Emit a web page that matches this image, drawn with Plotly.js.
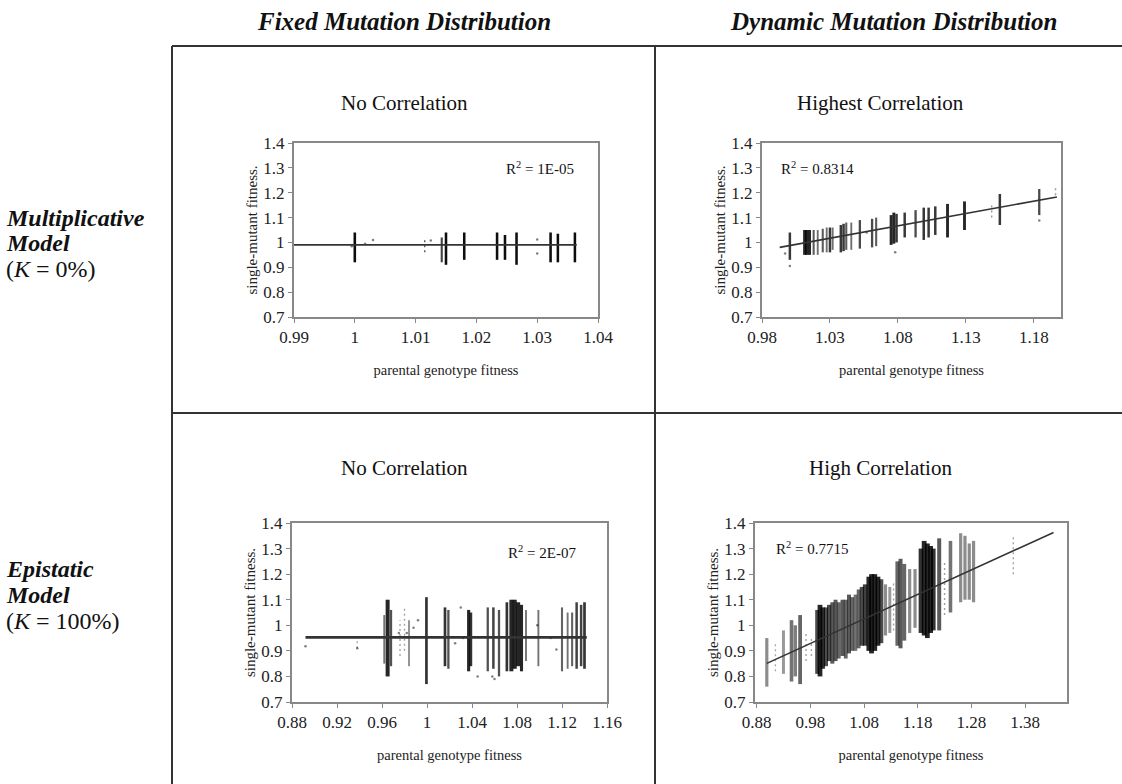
<!DOCTYPE html>
<html>
<head>
<meta charset="utf-8">
<script src="https://cdn.plot.ly/plotly-3.0.1.min.js"></script>
<style>
html,body{margin:0;padding:0;background:#fff;}
#chart{width:1122px;height:784px;}
</style>
</head>
<body>
<div id="chart"></div>
<script>
// ---------------- DATA ----------------
const colHeaders = ["Fixed Mutation Distribution", "Dynamic Mutation Distribution"];
const panelTitles = ["No Correlation", "Highest Correlation", "No Correlation", "High Correlation"];
const r2Labels = ["1E-05", "0.8314", "2E-07", "0.7715"];
const xAxisTitle = "parental genotype fitness";
const yAxisTitle = "single-mutant fitness.";

const yTickVals = [0.7, 0.8, 0.9, 1.0, 1.1, 1.2, 1.3, 1.4];
const yTickText = ["0.7", "0.8", "0.9", "1", "1.1", "1.2", "1.3", "1.4"];
const aTickVals = [0.99, 1.00, 1.01, 1.02, 1.03, 1.04];
const aTickText = ["0.99", "1", "1.01", "1.02", "1.03", "1.04"];
const bTickVals = [0.98, 1.03, 1.08, 1.13, 1.18];
const bTickText = ["0.98", "1.03", "1.08", "1.13", "1.18"];
const cTickVals = [0.88, 0.92, 0.96, 1.00, 1.04, 1.08, 1.12, 1.16];
const cTickText = ["0.88", "0.92", "0.96", "1", "1.04", "1.08", "1.12", "1.16"];
const dTickVals = [0.88, 0.98, 1.08, 1.18, 1.28, 1.38];
const dTickText = ["0.88", "0.98", "1.08", "1.18", "1.28", "1.38"];

// Panel A: fixed distribution, multiplicative model (strips of points per parental fitness)
const aX  = [1.000, 1.0115, 1.0143, 1.0150, 1.018, 1.0234, 1.0247, 1.0266, 1.0322, 1.0334, 1.0362];
const aLo = [0.92, 0.96, 0.92, 0.91, 0.93, 0.93, 0.93, 0.91, 0.92, 0.92, 0.92];
const aHi = [1.04, 1.01, 1.02, 1.04, 1.04, 1.04, 1.03, 1.04, 1.04, 1.035, 1.04];
const aN  = [40, 6, 12, 30, 30, 30, 30, 30, 30, 30, 30];
const aPx = [0.9995, 1.0017, 1.003, 1.030, 1.030, 1.0125];
const aPy = [0.985, 0.995, 1.010, 1.012, 0.955, 1.008];
const aFitX = [0.990, 1.0365];
const aFitY = [0.990, 0.990];

// Panel B: dynamic distribution, multiplicative model
const bX  = [1.0005, 1.0115, 1.013, 1.015, 1.018, 1.021, 1.0247, 1.0276, 1.030, 1.032, 1.038, 1.040, 1.042, 1.0457, 1.052, 1.061, 1.064, 1.075, 1.077, 1.079, 1.085, 1.093, 1.099, 1.1026, 1.1075, 1.1165, 1.129, 1.149, 1.155, 1.184, 1.196];
const bLo = [0.93, 0.95, 0.95, 0.95, 0.95, 0.95, 0.96, 0.96, 0.96, 0.97, 0.96, 0.965, 0.97, 0.97, 0.975, 0.98, 0.985, 0.99, 0.995, 1.00, 1.02, 1.02, 1.01, 1.02, 1.03, 1.02, 1.05, 1.10, 1.07, 1.11, 1.19];
const bHi = [1.04, 1.05, 1.05, 1.05, 1.05, 1.05, 1.055, 1.06, 1.06, 1.06, 1.07, 1.075, 1.08, 1.08, 1.09, 1.095, 1.10, 1.11, 1.12, 1.115, 1.12, 1.13, 1.14, 1.14, 1.145, 1.155, 1.165, 1.16, 1.195, 1.215, 1.23];
const bN  = [30, 60, 60, 40, 20, 15, 20, 15, 30, 15, 30, 30, 20, 15, 25, 25, 20, 40, 40, 30, 30, 25, 30, 30, 30, 40, 40, 5, 30, 25, 4];
const bPx = [0.997, 1.0005, 1.078, 1.184, 1.057];
const bPy = [0.955, 0.905, 0.960, 1.088, 1.040];
const bFitX = [0.993, 1.197];
const bFitY = [0.980, 1.183];

// Panel C: fixed distribution, epistatic model
const cX  = [0.938, 0.962, 0.965, 0.968, 0.976, 0.980, 0.984, 0.9995, 1.016, 1.019, 1.037, 1.039, 1.054, 1.059, 1.064, 1.071, 1.075, 1.078, 1.081, 1.084, 1.088, 1.099, 1.120, 1.125, 1.129, 1.133, 1.137, 1.140];
const cLo = [0.91, 0.85, 0.80, 0.84, 0.88, 0.90, 0.84, 0.77, 0.84, 0.83, 0.82, 0.84, 0.82, 0.83, 0.80, 0.82, 0.82, 0.83, 0.84, 0.82, 0.86, 0.84, 0.82, 0.83, 0.84, 0.83, 0.84, 0.83];
const cHi = [0.96, 1.04, 1.10, 1.06, 1.02, 1.07, 1.02, 1.11, 1.07, 1.06, 1.06, 1.05, 1.07, 1.07, 1.06, 1.09, 1.10, 1.10, 1.09, 1.08, 1.06, 1.06, 1.07, 1.05, 1.05, 1.09, 1.08, 1.09];
const cN  = [3, 20, 80, 30, 5, 5, 15, 40, 40, 30, 50, 40, 30, 35, 30, 40, 80, 100, 80, 50, 20, 20, 25, 20, 25, 35, 35, 40];
const cPx = [0.892, 0.938, 0.975, 0.982, 0.988, 0.992, 1.025, 1.030, 1.032, 1.045, 1.115, 1.110, 1.060, 1.058, 1.098];
const cPy = [0.918, 0.910, 0.970, 0.970, 0.990, 1.020, 0.930, 1.070, 0.950, 0.800, 0.905, 0.950, 0.790, 0.800, 1.000];
const cFitX = [0.892, 1.142];
const cFitY = [0.953, 0.953];

// Panel D: dynamic distribution, epistatic model
const dX  = [0.899, 0.915, 0.930, 0.945, 0.952, 0.961, 0.972, 0.982, 0.993, 0.998, 1.003, 1.009, 1.015, 1.021, 1.027, 1.033, 1.040, 1.046, 1.052, 1.058, 1.064, 1.070, 1.076, 1.082, 1.089, 1.094, 1.100, 1.106, 1.112, 1.120, 1.128, 1.135, 1.142, 1.148, 1.155, 1.165, 1.175, 1.186, 1.192, 1.198, 1.204, 1.209, 1.220, 1.230, 1.241, 1.260, 1.268, 1.276, 1.284, 1.358];
const dLo = [0.76, 0.82, 0.81, 0.78, 0.80, 0.77, 0.86, 0.88, 0.81, 0.80, 0.83, 0.84, 0.86, 0.85, 0.86, 0.87, 0.88, 0.87, 0.89, 0.90, 0.90, 0.91, 0.92, 0.92, 0.90, 0.89, 0.90, 0.92, 0.93, 0.96, 0.97, 0.98, 0.92, 0.91, 0.94, 0.97, 0.99, 0.97, 0.96, 0.95, 0.97, 0.98, 0.98, 1.04, 1.05, 1.09, 1.10, 1.10, 1.09, 1.20];
const dHi = [0.95, 0.93, 0.98, 1.02, 1.00, 1.04, 0.97, 0.95, 1.06, 1.08, 1.07, 1.07, 1.08, 1.09, 1.10, 1.09, 1.10, 1.10, 1.12, 1.11, 1.12, 1.14, 1.15, 1.16, 1.19, 1.20, 1.20, 1.19, 1.18, 1.16, 1.15, 1.17, 1.25, 1.26, 1.24, 1.22, 1.22, 1.30, 1.33, 1.32, 1.31, 1.30, 1.34, 1.25, 1.33, 1.36, 1.35, 1.32, 1.33, 1.35];
const dN  = [15, 4, 10, 25, 20, 30, 6, 6, 40, 60, 50, 40, 40, 35, 35, 30, 35, 30, 35, 30, 25, 30, 40, 45, 60, 70, 70, 60, 40, 15, 10, 6, 30, 35, 30, 15, 15, 50, 70, 80, 70, 50, 35, 8, 25, 15, 15, 15, 15, 6];
const dFitX = [0.899, 1.433];
const dFitY = [0.851, 1.363];

// ---------------- BUILD ----------------
const FONT = "Liberation Serif, 'Times New Roman', Times, serif";
const traces = [];

// per-panel rendering of strip density -> stroke
const styleA = {w0: 1.8, ws: 40, wMax: 2.6, o0: 0.55, os: 60, oMax: 0.95};
const styleB = {w0: 1.3, ws: 25, wMax: 3.4, o0: 0.35, os: 70, oMax: 0.85};
const styleC = {w0: 1.1, ws: 25, wMax: 4.0, o0: 0.30, os: 80, oMax: 0.85};
const styleD = {w0: 2.6, ws: 25, wMax: 4.8, o0: 0.30, os: 100, oMax: 0.85};

function addPanel(xs, lo, hi, n, px, py, fx, fy, xa, ya, fitWidth, st) {
  for (let i = 0; i < xs.length; i++) {
    const k = n[i];
    const sparse = k < 10;
    const op = Math.min(st.oMax, st.o0 + k / st.os);
    const w = sparse ? 1.4 : Math.min(st.wMax, st.w0 + k / st.ws);
    traces.push({
      type: 'scatter', mode: 'lines', x: [xs[i], xs[i]], y: [lo[i], hi[i]],
      xaxis: xa, yaxis: ya, hoverinfo: 'skip', showlegend: false,
      line: {color: 'rgba(0,0,0,' + op.toFixed(2) + ')', width: w, dash: sparse ? '2px,3px' : 'solid'}
    });
  }
  traces.push({
    type: 'scatter', mode: 'markers', x: px, y: py, xaxis: xa, yaxis: ya,
    hoverinfo: 'skip', showlegend: false,
    marker: {size: 2.5, color: 'rgba(0,0,0,0.5)'}
  });
  traces.push({
    type: 'scatter', mode: 'lines', x: fx, y: fy, xaxis: xa, yaxis: ya,
    hoverinfo: 'skip', showlegend: false,
    line: {color: '#333', width: fitWidth}
  });
}

addPanel(aX, aLo, aHi, aN, aPx, aPy, aFitX, aFitY, 'x', 'y', 1.6, styleA);
addPanel(bX, bLo, bHi, bN, bPx, bPy, bFitX, bFitY, 'x2', 'y2', 1.6, styleB);
addPanel(cX, cLo, cHi, cN, cPx, cPy, cFitX, cFitY, 'x3', 'y3', 2.8, styleC);
addPanel(dX, dLo, dHi, dN, [], [], dFitX, dFitY, 'x4', 'y4', 1.6, styleD);

const W = 1122, H = 784;
const px2x = v => v / W;
const px2y = v => 1 - v / H;

function xAxis(domain, range, tv, tt, anchor) {
  return {
    domain: domain, range: range, anchor: anchor,
    tickvals: tv, ticktext: tt, ticks: 'outside', ticklen: 4, tickcolor: '#888',
    showline: true, mirror: true, linecolor: '#888', linewidth: 2,
    showgrid: false, zeroline: false,
    tickfont: {family: FONT, size: 17, color: '#222'},
    title: {text: xAxisTitle, font: {family: FONT, size: 14.5, color: '#222'}, standoff: 18}
  };
}
function yAxis(domain, anchor) {
  return {
    domain: domain, range: [0.7, 1.4], anchor: anchor,
    tickvals: yTickVals, ticktext: yTickText, ticks: 'outside', ticklen: 4, tickcolor: '#888',
    showline: true, mirror: true, linecolor: '#888', linewidth: 2,
    showgrid: false, zeroline: false,
    tickfont: {family: FONT, size: 17, color: '#222'},
    title: {text: yAxisTitle, font: {family: FONT, size: 15, color: '#222'}, standoff: 2}
  };
}

const topY = [px2y(317), px2y(143)];
const botY = [px2y(702), px2y(523)];

const annotations = [];
function ann(text, x, y, size, opts) {
  annotations.push(Object.assign({
    text: text, x: px2x(x), y: px2y(y), xref: 'paper', yref: 'paper',
    showarrow: false, xanchor: 'center', yanchor: 'middle',
    font: {family: FONT, size: size, color: '#111'}
  }, opts || {}));
}
ann('<b><i>' + colHeaders[0] + '</i></b>', 404, 21, 25);
ann('<b><i>' + colHeaders[1] + '</i></b>', 893, 21, 25);
ann(panelTitles[0], 404, 103, 21);
ann(panelTitles[1], 880, 103, 21);
ann(panelTitles[2], 404, 468, 21);
ann(panelTitles[3], 880, 468, 21);
ann('R<sup>2</sup> = ' + r2Labels[0], 540, 168, 15);
ann('R<sup>2</sup> = ' + r2Labels[1], 817, 168, 15);
ann('R<sup>2</sup> = ' + r2Labels[2], 542, 552, 15);
ann('R<sup>2</sup> = ' + r2Labels[3], 812, 548, 15);
const rowOpts = {xanchor: 'left', font: {family: FONT, size: 24, color: '#111'}};
ann('<b><i>Multiplicative</i></b>', 4, 218, 24, rowOpts);
ann('<b><i>Model</i></b>', 4, 243, 24, rowOpts);
ann('(<i>K</i> = 0%)', 4, 269, 24, rowOpts);
ann('<b><i>Epistatic</i></b>', 4, 569, 24, rowOpts);
ann('<b><i>Model</i></b>', 4, 595, 24, rowOpts);
ann('(<i>K</i> = 100%)', 4, 621, 24, rowOpts);

const gridLine = {type: 'line', xref: 'paper', yref: 'paper', line: {color: '#333', width: 2}};
const shapes = [
  Object.assign({}, gridLine, {x0: px2x(172), x1: 1, y0: px2y(46), y1: px2y(46)}),
  Object.assign({}, gridLine, {x0: px2x(172), x1: px2x(172), y0: px2y(46), y1: 0}),
  Object.assign({}, gridLine, {x0: px2x(655), x1: px2x(655), y0: px2y(46), y1: 0}),
  Object.assign({}, gridLine, {x0: px2x(172), x1: 1, y0: px2y(413), y1: px2y(413)})
];

const layout = {
  width: W, height: H,
  margin: {l: 0, r: 0, t: 0, b: 0},
  paper_bgcolor: '#fff', plot_bgcolor: '#fff',
  showlegend: false,
  font: {family: FONT, color: '#222'},
  xaxis:  xAxis([px2x(294), px2x(598)], [0.99, 1.04], aTickVals, aTickText, 'y'),
  yaxis:  yAxis(topY, 'x'),
  xaxis2: xAxis([px2x(762), px2x(1061)], [0.98, 1.2], bTickVals, bTickText, 'y2'),
  yaxis2: yAxis(topY, 'x2'),
  xaxis3: xAxis([px2x(292), px2x(607)], [0.88, 1.16], cTickVals, cTickText, 'y3'),
  yaxis3: yAxis(botY, 'x3'),
  xaxis4: xAxis([px2x(755), px2x(1067)], [0.877, 1.458], dTickVals, dTickText, 'y4'),
  yaxis4: yAxis(botY, 'x4'),
  annotations: annotations,
  shapes: shapes
};

Plotly.newPlot('chart', traces, layout, {staticPlot: true, displayModeBar: false});
</script>
</body>
</html>
